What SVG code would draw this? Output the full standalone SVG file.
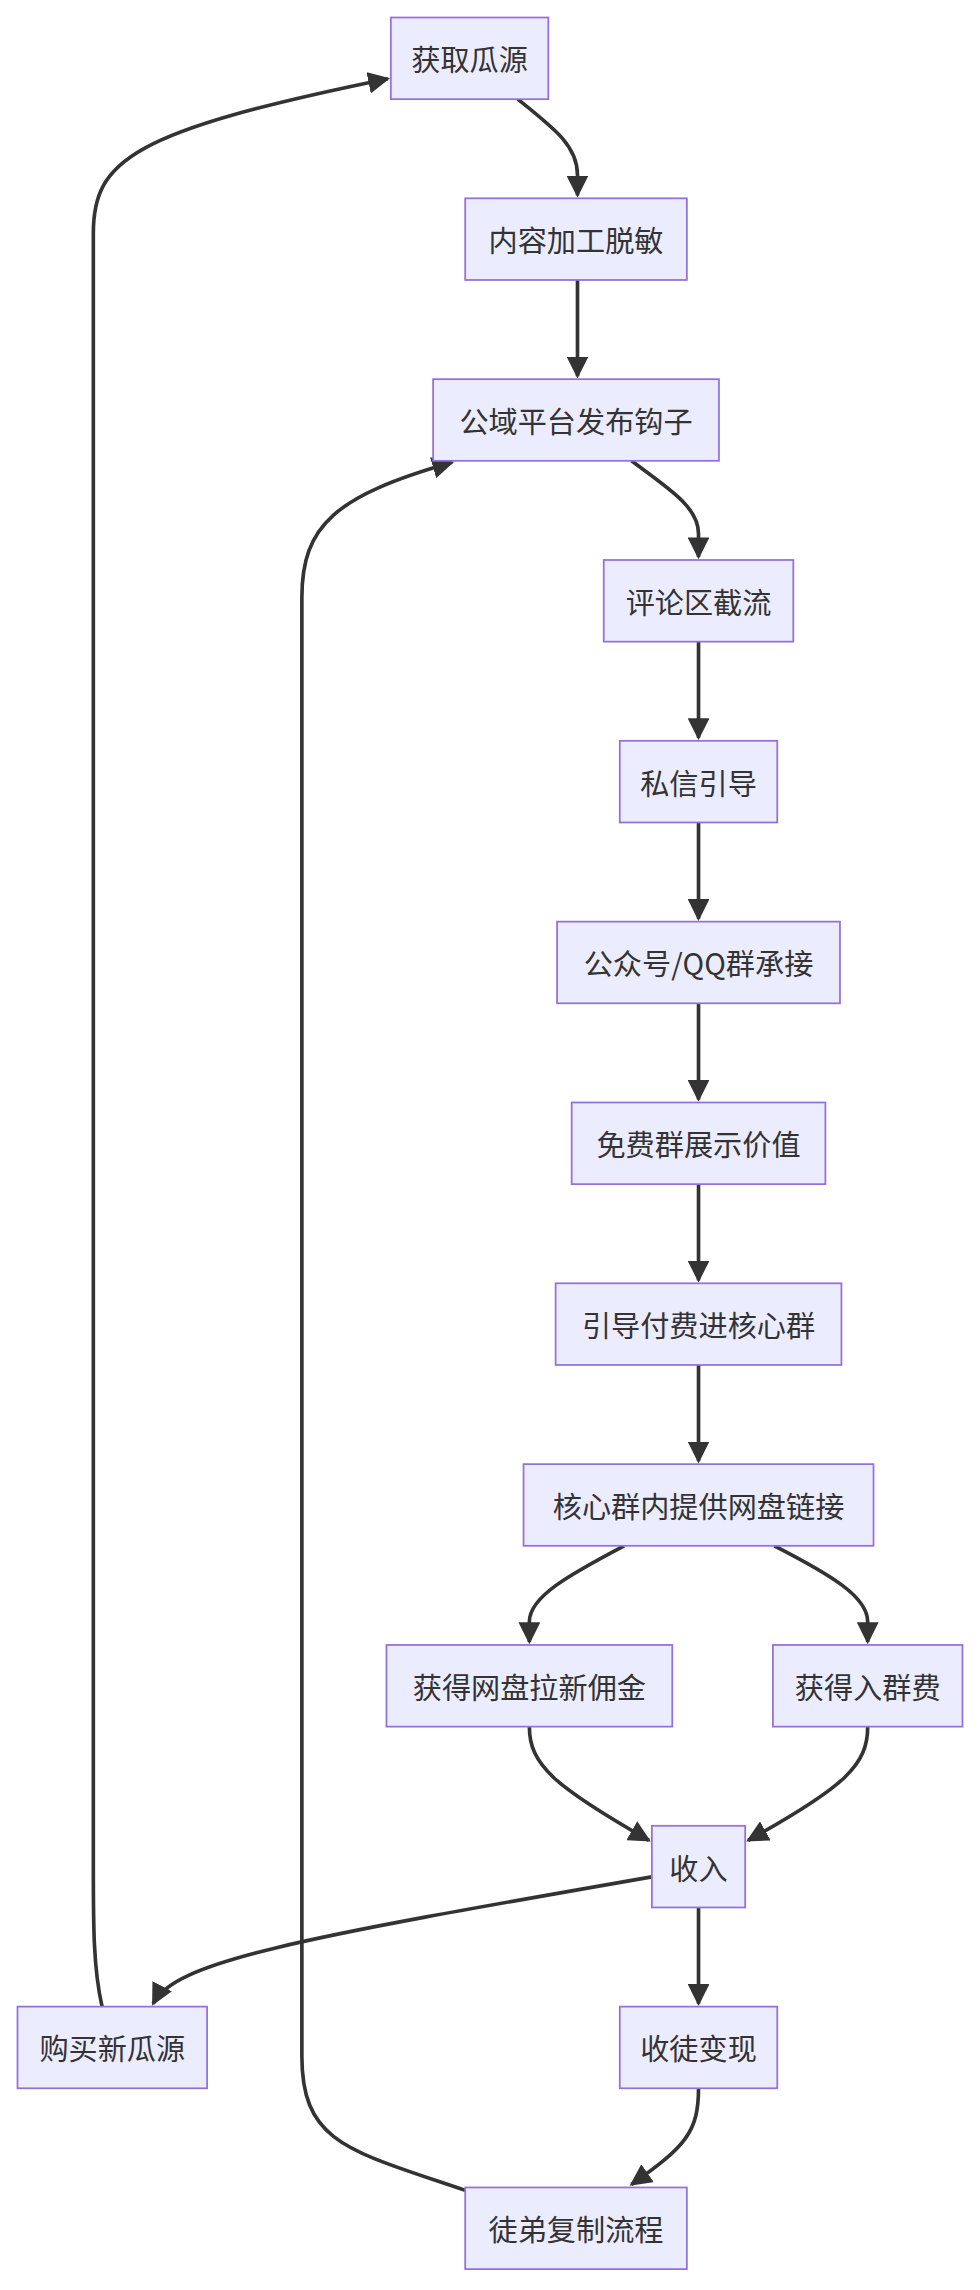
<svg xmlns="http://www.w3.org/2000/svg" width="980" height="2290" viewBox="0 0 980 2290">
<style>
.n rect{fill:#ECECFF;stroke:#9370DB;stroke-width:1.2}
.n text{font-family:"Noto Sans CJK SC","Liberation Sans",sans-serif;font-size:20px;fill:#333;text-anchor:middle;dominant-baseline:central}
.e path{fill:none;stroke:#333;stroke-width:2.5}
</style>
<defs><marker id="a" viewBox="0 0 10 10" refX="9" refY="5" markerWidth="6" markerHeight="6" orient="auto" markerUnits="strokeWidth"><path d="M0,0L10,5L0,10z" fill="#333"/></marker></defs>
<rect width="980" height="2290" fill="#fff"/>
<g transform="scale(1.4583)">
<g class="e" marker-end="url(#a)">
<path d="M355,68 C380,88 396,100 396,120 L396,134" marker-end="url(#a)"/>
<path d="M396,192 L396,258" marker-end="url(#a)"/>
<path d="M433,316 C460,336 479,348 479,366 L479,382" marker-end="url(#a)"/>
<path d="M479,440 L479,506" marker-end="url(#a)"/>
<path d="M479,564 L479,630" marker-end="url(#a)"/>
<path d="M479,688 L479,754" marker-end="url(#a)"/>
<path d="M479,812 L479,878" marker-end="url(#a)"/>
<path d="M479,936 L479,1002" marker-end="url(#a)"/>
<path d="M428,1060 C390,1080 363,1095 363,1112 L363,1126" marker-end="url(#a)"/>
<path d="M531,1060 C570,1080 595,1095 595,1112 L595,1126" marker-end="url(#a)"/>
<path d="M363,1184 C363,1210 380,1225 445,1262" marker-end="url(#a)"/>
<path d="M595,1184 C595,1210 580,1225 513,1262" marker-end="url(#a)"/>
<path d="M447,1287 C200,1330 120,1345 105,1374" marker-end="url(#a)"/>
<path d="M479,1308 L479,1374" marker-end="url(#a)"/>
<path d="M479,1432 C479,1462 470,1472 433,1498" marker-end="url(#a)"/>
<path d="M319,1502 C240,1475 207,1470 207,1410 L207,410 C207,360 230,340 310,317" marker-end="url(#a)"/>
<path d="M70,1376 C64,1350 64,1320 64,1280 L64,160 C64,110 90,90 266,54" marker-end="url(#a)"/>
</g>
<g id="n1" class="n"><rect x="268" y="12" width="108" height="56"/><text x="322" y="40">获取瓜源</text></g>
<g id="n2" class="n"><rect x="319" y="136" width="152" height="56"/><text x="395" y="164">内容加工脱敏</text></g>
<g id="n3" class="n"><rect x="297" y="260" width="196" height="56"/><text x="395" y="288">公域平台发布钩子</text></g>
<g id="n4" class="n"><rect x="414" y="384" width="130" height="56"/><text x="479" y="412">评论区截流</text></g>
<g id="n5" class="n"><rect x="425" y="508" width="108" height="56"/><text x="479" y="536">私信引导</text></g>
<g id="n6" class="n"><rect x="382" y="632" width="194" height="56"/><text x="479" y="660">公众号/QQ群承接</text></g>
<g id="n7" class="n"><rect x="392" y="756" width="174" height="56"/><text x="479" y="784">免费群展示价值</text></g>
<g id="n8" class="n"><rect x="381" y="880" width="196" height="56"/><text x="479" y="908">引导付费进核心群</text></g>
<g id="n9" class="n"><rect x="359" y="1004" width="240" height="56"/><text x="479" y="1032">核心群内提供网盘链接</text></g>
<g id="n10" class="n"><rect x="265" y="1128" width="196" height="56"/><text x="363" y="1156">获得网盘拉新佣金</text></g>
<g id="n11" class="n"><rect x="530" y="1128" width="130" height="56"/><text x="595" y="1156">获得入群费</text></g>
<g id="n12" class="n"><rect x="447" y="1252" width="64" height="56"/><text x="479" y="1280">收入</text></g>
<g id="n13" class="n"><rect x="12" y="1376" width="130" height="56"/><text x="77" y="1404">购买新瓜源</text></g>
<g id="n14" class="n"><rect x="425" y="1376" width="108" height="56"/><text x="479" y="1404">收徒变现</text></g>
<g id="n15" class="n"><rect x="319" y="1500" width="152" height="56"/><text x="395" y="1528">徒弟复制流程</text></g>
</g>
</svg>
